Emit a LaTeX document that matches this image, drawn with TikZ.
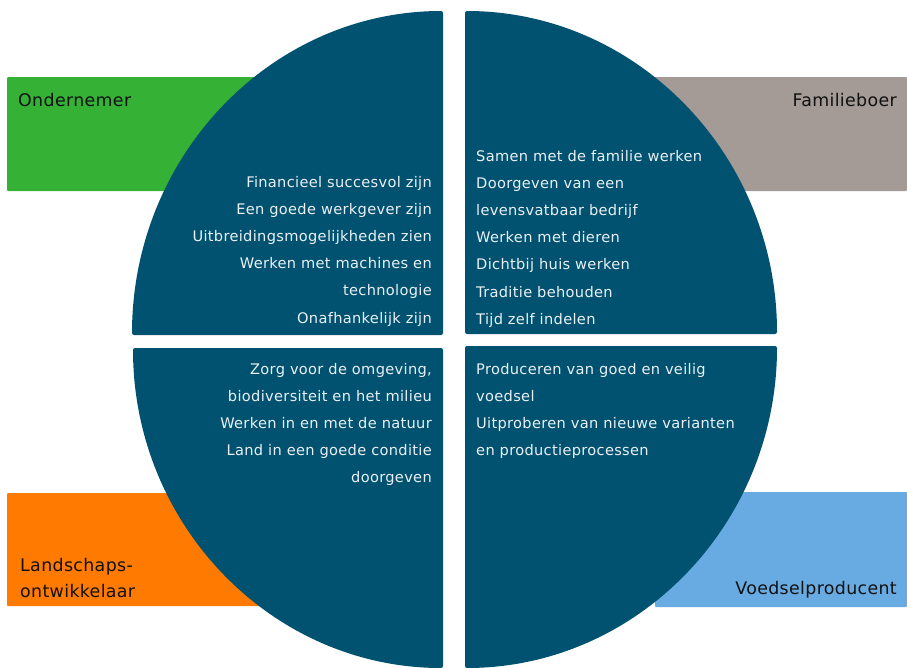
\documentclass[tikz,border=0pt]{standalone}
\usepackage{fontspec}
\setmainfont{DejaVu Sans}
\newfontfamily\motivefont[LetterSpace=2.2]{DejaVu Sans}
\newfontfamily\rolefont[LetterSpace=2]{DejaVu Sans}
\definecolor{quadfill}{RGB}{1,82,112}
\definecolor{quadtext}{RGB}{234,240,244}
\definecolor{ondgreen}{RGB}{53,178,54}
\definecolor{famgray}{RGB}{164,155,150}
\definecolor{landorange}{RGB}{255,122,0}
\definecolor{foodblue}{RGB}{104,171,226}
\definecolor{labelink}{RGB}{17,17,17}
\tikzset{
  rolebox/.style={rounded corners=1pt},
  quadrant/.style={fill=quadfill, rounded corners=2pt},
  quadlines/.style={inner sep=0pt, text=quadtext,
    font=\motivefont\fontsize{14.6}{27.2}\selectfont},
  rolelabel/.style={inner sep=0pt, text=labelink,
    font=\rolefont\fontsize{17.4}{26}\selectfont}
}
\newcommand{\linesright}[1]{\begin{tabular}[t]{@{}r@{}}#1\end{tabular}}
\newcommand{\linesleft}[1]{\begin{tabular}[t]{@{}l@{}}#1\end{tabular}}
\begin{document}
\begin{tikzpicture}[x=1pt,y=-1pt]
  \useasboundingbox (0,0) rectangle (907,667);
  \clip (0,0) rectangle (907,667);

  % coloured role bands behind the circle
  \fill[ondgreen, rolebox]   (7,77)   rectangle (300,191);
  \fill[famgray, rolebox]    (600,77) rectangle (907,191);
  \fill[landorange, rolebox] (7,493)  rectangle (300,606);
  \fill[foodblue, rolebox]   (655,492) rectangle (907,607);

  % four quarter segments of the circle
  \fill[quadrant] (443,335) -- (132,335)
    arc[start angle=180, end angle=270, x radius=311, y radius=324] -- cycle;
  \fill[quadrant] (465,334) -- (465,11)
    arc[start angle=270, end angle=360, x radius=312, y radius=323] -- cycle;
  \fill[quadrant] (443,348) -- (443,668)
    arc[start angle=90, end angle=180, x radius=310, y radius=320] -- cycle;
  \fill[quadrant] (465,346) -- (777,346)
    arc[start angle=0, end angle=90, x radius=312, y radius=322] -- cycle;

  % role names
  \node[rolelabel, anchor=base west] (ondernemer) at (18,106) {Ondernemer};
  \node[rolelabel, anchor=base east] (familieboer) at (897,106) {Familieboer};
  \node[rolelabel, anchor=base west] (landschap) at (20,571)
    {\linesleft{Landschaps-\\ontwikkelaar}};
  \node[rolelabel, anchor=base east] (voedsel) at (897,594) {Voedselproducent};

  % motives in each segment
  \node[quadlines, anchor=base east] (motivesTL) at (432,187) {\linesright{%
    Financieel succesvol zijn\\
    Een goede werkgever zijn\\
    Uitbreidingsmogelijkheden zien\\
    Werken met machines en\\
    technologie\\
    Onafhankelijk zijn}};
  \node[quadlines, anchor=base west] (motivesTR) at (476,161) {\linesleft{%
    Samen met de familie werken\\
    Doorgeven van een\\
    levensvatbaar bedrijf\\
    Werken met dieren\\
    Dichtbij huis werken\\
    Traditie behouden\\
    Tijd zelf indelen}};
  \node[quadlines, anchor=base east] (motivesBL) at (432,374) {\linesright{%
    Zorg voor de omgeving,\\
    biodiversiteit en het milieu\\
    Werken in en met de natuur\\
    Land in een goede conditie\\
    doorgeven}};
  \node[quadlines, anchor=base west] (motivesBR) at (476,374) {\linesleft{%
    Produceren van goed en veilig\\
    voedsel\\
    Uitproberen van nieuwe varianten\\
    en productieprocessen}};
\end{tikzpicture}
\end{document}
